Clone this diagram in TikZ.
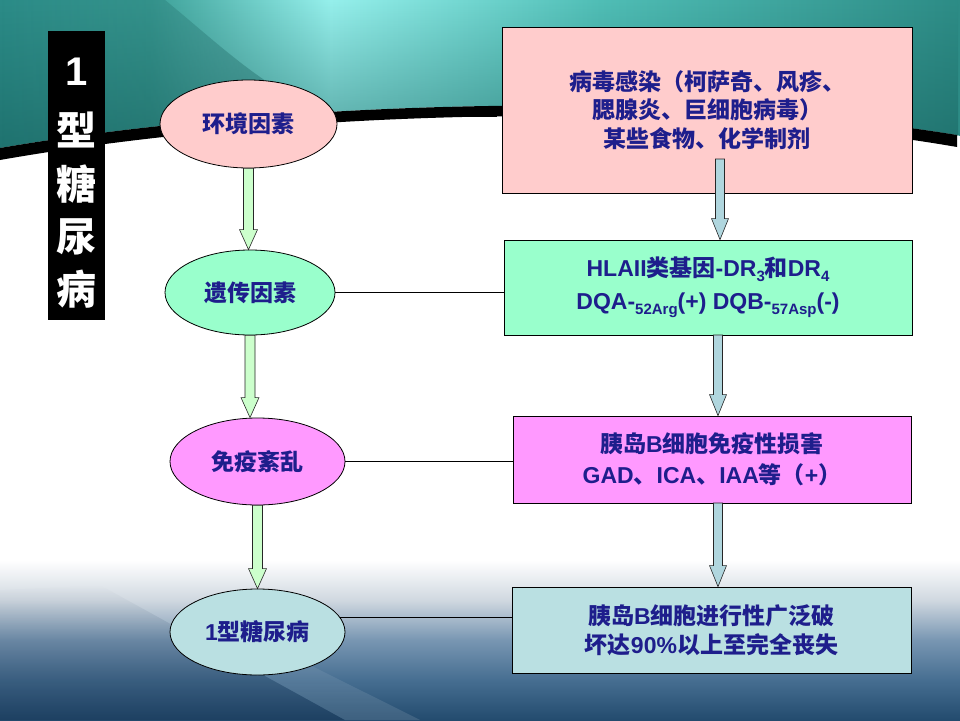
\documentclass[tikz,border=0pt]{standalone}
\usepackage{fontspec}
\setmainfont{Liberation Sans}
\newfontfamily\cjk{Noto Sans CJK SC}
\usetikzlibrary{shapes.geometric,calc,fadings}
\definecolor{txtblue}{RGB}{30,30,140}
\definecolor{pinkfill}{RGB}{255,204,204}
\definecolor{mintfill}{RGB}{153,255,204}
\definecolor{magfill}{RGB}{255,153,255}
\definecolor{lbfill}{RGB}{186,224,226}
\definecolor{arrG}{RGB}{204,255,204}
\definecolor{arrB}{RGB}{176,214,222}
\definecolor{tA}{RGB}{44,140,136}
\definecolor{tB}{RGB}{60,160,152}
\definecolor{tC}{RGB}{150,240,236}
\definecolor{tD}{RGB}{80,190,182}
\definecolor{tE}{RGB}{45,140,134}
\definecolor{tDark}{RGB}{20,90,88}
\definecolor{bB}{RGB}{35,75,110}
\definecolor{bQ}{RGB}{70,110,145}
\definecolor{bM}{RGB}{120,150,178}
\definecolor{bL}{RGB}{208,216,224}
\definecolor{bDark}{RGB}{20,45,75}
\pgfdeclarehorizontalshading{tealsh}{100bp}{color(0bp)=(tA); color(25bp)=(tA); color(32.8bp)=(tB); color(42.2bp)=(tC); color(56.25bp)=(tD); color(75bp)=(tE); color(100bp)=(tE)}
\pgfdeclareverticalshading{bluesh}{100bp}{color(0bp)=(bB); color(25bp)=(bB); color(36.1bp)=(bQ); color(47.2bp)=(bM); color(58.3bp)=(bL); color(69.4bp)=(white); color(100bp)=(white)}
\newcommand\lowsub[1]{\raisebox{-5pt}{\fontsize{15}{15}\selectfont #1}}
\newcommand\vblock[6]{%
  \path[#1] ($(#2)+(-#4,0)$) -- ($(#2|-#3)+(-#4,-#6)$) -- ($(#2|-#3)+(-#5,-#6)$) -- (#2|-#3)
    -- ($(#2|-#3)+(#5,-#6)$) -- ($(#2|-#3)+(#4,-#6)$) -- ($(#2)+(#4,0)$) -- cycle;}
\begin{document}
\begin{tikzpicture}[x=1pt,y=-1pt,
  ell/.style={ellipse, draw=black, line width=0.8pt, inner sep=0pt, text=txtblue,
    font=\fontsize{23}{28}\selectfont\bfseries},
  bx/.style={rectangle, draw=black, line width=0.8pt, inner sep=0pt, align=center, text=txtblue,
    font=\fontsize{23}{30}\selectfont\bfseries},
  link/.style={draw=black, line width=0.8pt},
  garrow/.style={draw=black!85, line width=0.6pt, fill=arrG, line join=miter},
  barrow/.style={draw=black!85, line width=0.6pt, fill=arrB, line join=miter},
  ttl/.style={text=white, inner sep=0pt, font=\fontsize{40}{40}\selectfont\bfseries}]
\useasboundingbox (0,0) rectangle (960,720);
\fill[white] (0,0) rectangle (960,720);
% top teal swoosh
\shade[shading=tealsh] (0,0) -- (960,0) -- (960,136) -- (957,135) .. controls (650,85) and (250,105) .. (0,148) -- cycle;
\fill[tDark, opacity=.5, path fading=north] (0,0) -- (960,0) -- (960,136) -- (957,135) .. controls (650,85) and (250,105) .. (0,148) -- cycle;
\fill[tDark, opacity=.45, path fading=west] (0,0) -- (165,0) .. controls (220,45) and (270,95) .. (335,116) .. controls (200,125) and (80,138) .. (0,148) -- cycle;
\fill[black] (0,148) .. controls (250,105) and (650,85) .. (957,135) -- (957,147) .. controls (650,94) and (250,116) .. (0,160) -- cycle;
% bottom gradient
\shade[shading=bluesh] (0,540) rectangle (960,720);
\fill[bDark, opacity=.35, path fading=north] (0,590) -- (100,585) -- (345,720) -- (0,720) -- cycle;
\fill[white, opacity=.12, path fading=north] (100,585) -- (150,585) -- (420,720) -- (345,720) -- cycle;
% title bar
\node[fill=black, minimum width=57pt, minimum height=289pt, inner sep=0pt] (bar) at (76.5,175.5) {};
\node[ttl] (t1) at (76.5,72) {1};
\node[ttl] (t2) at (76.5,130) {\cjk 型};
\node[ttl] (t3) at (76.5,184) {\cjk 糖};
\node[ttl] (t4) at (76.5,237) {\cjk 尿};
\node[ttl] (t5) at (76.5,289) {\cjk 病};
% ellipses
\node[ell, fill=pinkfill, minimum width=177pt, minimum height=88pt] (e1) at (248.5,124) {\cjk 环境因素};
\node[ell, fill=mintfill, minimum width=170pt, minimum height=85pt] (e2) at (250,292.5) {\cjk 遗传因素};
\node[ell, fill=magfill, minimum width=175pt, minimum height=87pt] (e3) at (257.5,461.5) {\cjk 免疫紊乱};
\node[ell, fill=lbfill, minimum width=175pt, minimum height=86pt] (e4) at (257.5,632) {1{\cjk 型糖尿病}};
% boxes
\node[bx, fill=pinkfill, minimum width=410pt, minimum height=166pt, font=\fontsize{23}{28.5}\selectfont\bfseries] (b1) at (707,110)
  {\cjk 病毒感染（柯萨奇、风疹、\\\cjk 腮腺炎、巨细胞病毒）\\\cjk 某些食物、化学制剂};
\node[bx, fill=mintfill, minimum width=408pt, minimum height=95pt, font=\fontsize{23}{33}\selectfont\bfseries] (b2) at (708,287.5)
  {HLAII{\cjk 类基因}-DR\lowsub{3}{\cjk 和}DR\lowsub{4}\\DQA-\lowsub{52Arg}(+) DQB-\lowsub{57Asp}(-)};
\node[bx, fill=magfill, minimum width=398pt, minimum height=87pt, font=\fontsize{23}{31}\selectfont\bfseries] (b3) at (712,459.5)
  {{\cjk 胰岛}B{\cjk 细胞免疫性损害}\\GAD{\cjk 、}ICA{\cjk 、}IAA{\cjk 等（}+{\cjk ）}};
\node[bx, fill=lbfill, minimum width=399pt, minimum height=86pt, font=\fontsize{23}{29}\selectfont\bfseries] (b4) at (711.5,630)
  {{\cjk 胰岛}B{\cjk 细胞进行性广泛破}\\{\cjk 坏达}90\%{\cjk 以上至完全丧失}};
% connectors
\coordinate (lk1) at (497,0);
\draw[link] (e1.5) -- (e1.5 -| lk1);
\draw[link] (e2.east) -- (e2.east -| b2.west);
\draw[link] (e3.east) -- (e3.east -| b3.west);
\draw[link] (e4.10) -- (e4.10 -| b4.west);
% left block arrows
\vblock{garrow}{e1.south}{e2.north}{5}{9}{20}
\vblock{garrow}{e2.south}{e3.north}{5}{9}{20}
\vblock{garrow}{e3.south}{e4.north}{5}{9}{20}
% right block arrows
\coordinate (ra1) at (720,159);
\coordinate (ra2) at (718,335);
\coordinate (ra3) at (718,503);
\vblock{barrow}{ra1}{b2.north}{4.5}{8.5}{21}
\vblock{barrow}{ra2}{b3.north}{4.5}{8.5}{21}
\vblock{barrow}{ra3}{b4.north}{4.5}{8.5}{21}
\end{tikzpicture}
\end{document}
